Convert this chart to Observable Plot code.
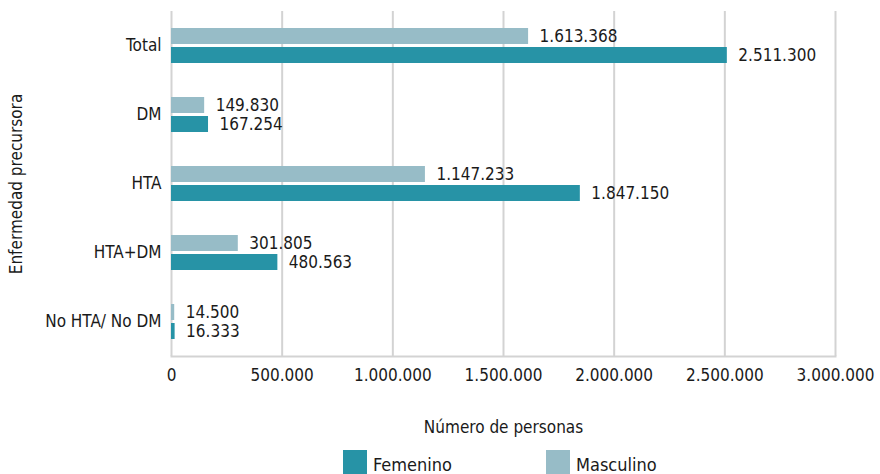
<!DOCTYPE html>
<html>
<head>
<meta charset="utf-8">
<script src="https://cdn.jsdelivr.net/npm/d3@7"></script>
<script src="https://cdn.jsdelivr.net/npm/@observablehq/plot@0.6"></script>
<style>
  body { margin: 0; background: white; }
  #chart { width: 880px; }
  .legend { display: flex; align-items: flex-start; padding-left: 343px; padding-top: 10px; height: 24px; font-family: "DejaVu Sans Condensed", "Liberation Sans Narrow", Arial, sans-serif; font-size: 18px; color: #1a1a1a; }
  .item { display: flex; align-items: flex-end; }
  .sw { width: 24px; height: 24px; margin-right: 6px; }
  .lt { position: relative; top: 1px; }
</style>
</head>
<body>
<div id="chart"></div>
<script>
const categories = ["Total", "DM", "HTA", "HTA+DM", "No HTA/ No DM"];
const seriesNames = ["Masculino", "Femenino"];
const masculino = [1613368, 149830, 1147233, 301805, 14500];
const femenino = [2511300, 167254, 1847150, 480563, 16333];
const xTicks = [0, 500000, 1000000, 1500000, 2000000, 2500000, 3000000];
const legendOrder = ["Femenino", "Masculino"];
const colors = ["#2793a6", "#97bcc7"];

const fmt = d3.formatLocale({thousands: ".", grouping: [3], decimal: ",", currency: ["", ""]}).format(",d");
const font = '"DejaVu Sans Condensed", "Liberation Sans Narrow", Arial, sans-serif';

const data = categories.flatMap((c, i) => [
  {cat: c, sexo: "Masculino", value: masculino[i]},
  {cat: c, sexo: "Femenino", value: femenino[i]}
]);

const chart = Plot.plot({
  width: 880,
  height: 440,
  marginLeft: 171,
  marginRight: 45,
  marginTop: 9,
  marginBottom: 83,
  style: {fontFamily: font, fontSize: "17px", color: "#1a1a1a", background: "white"},
  x: {domain: [0, 3000000], ticks: xTicks, tickFormat: fmt, label: "Número de personas", labelAnchor: "center", labelArrow: "none", labelOffset: 76, tickSize: 0, tickPadding: 12},
  y: {domain: seriesNames, axis: null, paddingInner: 0.15, paddingOuter: 0.81},
  fy: {domain: categories, padding: 0, axis: "left", label: "Enfermedad precursora", labelAnchor: "center", labelArrow: "none", labelOffset: 162, tickSize: 0, tickPadding: 10},
  color: {domain: legendOrder, range: colors},
  marks: [
    Plot.gridX(xTicks, {stroke: "#d3d3d3", strokeWidth: 2, strokeOpacity: 1}),
    Plot.frame({anchor: "bottom", facetAnchor: "bottom", stroke: "#d3d3d3", strokeWidth: 2}),
    Plot.barX(data, {x: "value", y: "sexo", fy: "cat", fill: "sexo"}),
    Plot.text(data, {x: "value", y: "sexo", fy: "cat", text: d => fmt(d.value), textAnchor: "start", dx: 11, fill: "#1a1a1a"})
  ]
});
document.getElementById("chart").appendChild(chart);

const legend = document.createElement("div");
legend.className = "legend";
legendOrder.forEach((name, i) => {
  const item = document.createElement("div");
  item.className = "item";
  if (i === 0) item.style.width = "203px";
  const sw = document.createElement("span");
  sw.className = "sw";
  sw.style.background = colors[i];
  const t = document.createElement("span");
  t.className = "lt";
  t.textContent = name;
  item.appendChild(sw);
  item.appendChild(t);
  legend.appendChild(item);
});
document.getElementById("chart").appendChild(legend);
</script>
</body>
</html>
